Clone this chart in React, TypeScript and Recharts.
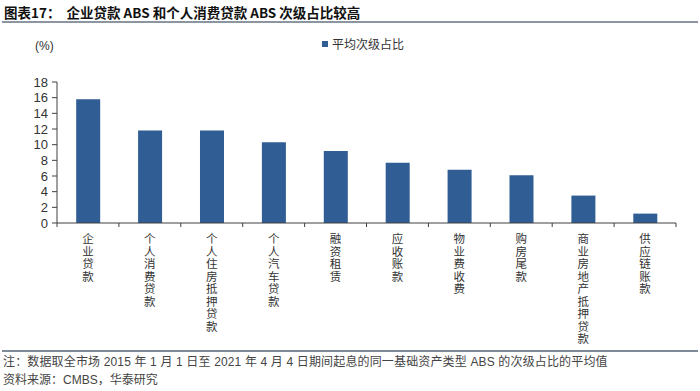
import React from "react";
import { BarChart, Bar, XAxis, YAxis, Legend } from "recharts";

const categories = [
  "企业贷款",
  "个人消费贷款",
  "个人住房抵押贷款",
  "个人汽车贷款",
  "融资租赁",
  "应收账款",
  "物业费收费",
  "购房尾款",
  "商业房地产抵押贷款",
  "供应链账款",
];
const avgSubordination = [15.8, 11.8, 11.8, 10.3, 9.2, 7.7, 6.8, 6.1, 3.5, 1.2];
const yTicks = [0, 2, 4, 6, 8, 10, 12, 14, 16, 18];
const seriesName = "平均次级占比";
const titleText = "图表17：  企业贷款 ABS 和个人消费贷款 ABS 次级占比较高";
const noteText =
  "注：数据取全市场 2015 年 1 月 1 日至 2021 年 4 月 4 日期间起息的同一基础资产类型 ABS 的次级占比的平均值";
const sourceText = "资料来源：CMBS，华泰研究";
const unitText = "(%)";

const data = categories.map((name, i) => ({ name, value: avgSubordination[i] }));

const BAR_COLOR = "#2f5d94";
const AXIS_COLOR = "#404040";
const FONT = "'Liberation Sans', 'Noto Sans CJK SC', sans-serif";
const CJK = "'Noto Sans CJK SC', 'Liberation Sans', sans-serif";

function VerticalTick(props: any) {
  const { x, y, payload, index } = props;
  const half = payload && payload.offset ? payload.offset : 0;
  return (
    <g>
      {index === 0 && (
        <line x1={x - half} y1={y} x2={x - half} y2={y + 4} stroke={AXIS_COLOR} strokeWidth={1} />
      )}
      <line x1={x + half} y1={y} x2={x + half} y2={y + 4} stroke={AXIS_COLOR} strokeWidth={1} />
      <text
        x={x}
        y={y + 10}
        fontSize={11.5}
        fontFamily={CJK}
        fill="#333"
        style={{ writingMode: "vertical-rl", letterSpacing: "1px" } as any}
      >
        {String(payload.value)}
      </text>
    </g>
  );
}

function LegendContent() {
  return (
    <div style={{ display: "flex", alignItems: "center", fontFamily: CJK, fontSize: 12, color: "#333" }}>
      <span style={{ display: "inline-block", width: 6, height: 6, background: BAR_COLOR, marginRight: 4 }} />
      <span>{seriesName}</span>
    </div>
  );
}

export default function App() {
  return (
    <div
      style={{
        position: "absolute",
        left: 0,
        top: 0,
        width: 700,
        height: 391,
        background: "#fff",
        overflow: "hidden",
      }}
    >
      <div
        style={{
          position: "absolute",
          left: 4,
          top: 4,
          fontFamily: CJK,
          fontWeight: 700,
          fontSize: 13.5,
          lineHeight: "16px",
          color: "#111",
          whiteSpace: "pre",
        }}
      >
        {titleText}
      </div>
      <div style={{ position: "absolute", left: 2, top: 21, width: 696, height: 2, background: "#8c96a2" }} />
      <div
        style={{
          position: "absolute",
          left: 35,
          top: 38,
          fontFamily: FONT,
          fontSize: 12,
          lineHeight: "16px",
          color: "#333",
        }}
      >
        {unitText}
      </div>
      <div style={{ position: "absolute", left: 0, top: 0 }}>
        <BarChart
          width={700}
          height={391}
          data={data}
          margin={{ top: 65, right: 24, bottom: 53, left: 7 }}
          barCategoryGap="31%"
        >
          <YAxis
            width={50}
            domain={[0, 18]}
            ticks={yTicks}
            interval={0}
            tickSize={5}
            tickMargin={4}
            axisLine={{ stroke: AXIS_COLOR }}
            tickLine={{ stroke: AXIS_COLOR }}
            tick={{ fontSize: 13, fontFamily: FONT, fill: "#333" }}
          />
          <XAxis
            dataKey="name"
            height={115}
            interval={0}
            tickSize={0}
            tickMargin={0}
            tickLine={false}
            axisLine={{ stroke: AXIS_COLOR }}
            tick={<VerticalTick />}
          />
          <Legend
            verticalAlign="top"
            align="left"
            content={<LegendContent />}
            wrapperStyle={{ position: "absolute", left: 322, top: 35, width: 120 }}
          />
          <Bar dataKey="value" name={seriesName} fill={BAR_COLOR} isAnimationActive={false} />
        </BarChart>
      </div>
      <div
        style={{
          position: "absolute",
          left: 2,
          top: 350,
          width: 696,
          height: 1.5,
          background: "#7f8a99",
        }}
      />
      <div
        style={{
          position: "absolute",
          left: 3,
          top: 354,
          fontFamily: FONT,
          fontSize: 12,
          letterSpacing: "0.15px",
          lineHeight: "16px",
          color: "#444",
          whiteSpace: "pre",
        }}
      >
        {noteText}
      </div>
      <div
        style={{
          position: "absolute",
          left: 3,
          top: 372,
          fontFamily: FONT,
          fontSize: 12,
          lineHeight: "16px",
          color: "#444",
          whiteSpace: "pre",
        }}
      >
        {sourceText}
      </div>
    </div>
  );
}
